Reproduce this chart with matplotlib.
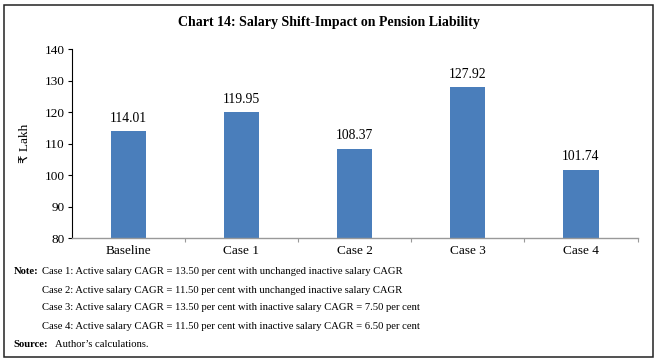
import matplotlib.pyplot as plt
from matplotlib.patches import Rectangle

# data
categories = ["Baseline", "Case 1", "Case 2", "Case 3", "Case 4"]
values = [114.01, 119.95, 108.37, 127.92, 101.74]
yticks = [80, 90, 100, 110, 120, 130, 140]

notes = [
    "Case 1: Active salary CAGR = 13.50 per cent with unchanged inactive salary CAGR",
    "Case 2: Active salary CAGR = 11.50 per cent with unchanged inactive salary CAGR",
    "Case 3: Active salary CAGR = 13.50 per cent with inactive salary CAGR = 7.50 per cent",
    "Case 4: Active salary CAGR = 11.50 per cent with inactive salary CAGR = 6.50 per cent",
]

plt.rcParams['font.family'] = ['Liberation Serif', 'DejaVu Sans']

fig = plt.figure(figsize=(6.58, 3.63), dpi=100)
ax = fig.add_axes([0.109, 0.344, 0.860, 0.521])

x = list(range(len(categories)))
ax.bar(x, values, width=0.31, color="#4a7ebb", zorder=2)
for xi, v in zip(x, values):
    ax.text(xi, v + 2.0, f"{v:.2f}", ha="center", va="bottom", fontsize=9.8)

ax.set_xlim(-0.5, len(categories) - 0.5)
ax.set_ylim(80, 140)
ax.set_yticks(yticks)
ax.set_xticks(x)
ax.set_xticklabels(categories)
# small ticks between categories
ax.set_xticks([i + 0.5 for i in range(len(categories))], minor=True)
ax.tick_params(axis="x", which="major", length=0, labelsize=9.5, pad=5)
ax.tick_params(axis="x", which="minor", length=3, color="#999999", width=0.8)
ax.tick_params(axis="y", length=3, labelsize=9.5, pad=2)
ax.set_ylabel("₹ Lakh", fontsize=9.5, labelpad=10)

ax.spines["top"].set_visible(False)
ax.spines["right"].set_visible(False)
ax.spines["bottom"].set_color("#999999")
ax.spines["bottom"].set_linewidth(1.0)
ax.spines["left"].set_color("black")
ax.spines["left"].set_linewidth(0.8)

fig.text(0.5, 0.937, "Chart 14: Salary Shift-Impact on Pension Liability",
         ha="center", va="center", fontsize=10, fontweight="bold")

# notes under the plot
note_y = [0.251, 0.201, 0.152, 0.100, 0.052]
fig.text(0.021, note_y[0], "Note:", fontsize=7.7, fontweight="bold", va="center")
for yy, line in zip(note_y, notes):
    fig.text(0.064, yy, line, fontsize=7.7, va="center")
fig.text(0.021, note_y[4], "Source:", fontsize=7.7, fontweight="bold", va="center")
fig.text(0.084, note_y[4], "Author’s calculations.", fontsize=7.7, va="center")

# outer frame
fig.patches.append(Rectangle((0.006, 0.0165), 0.986, 0.970, transform=fig.transFigure,
                             fill=False, edgecolor="#222222", linewidth=1.1))

fig.savefig("out.png", dpi=100)
